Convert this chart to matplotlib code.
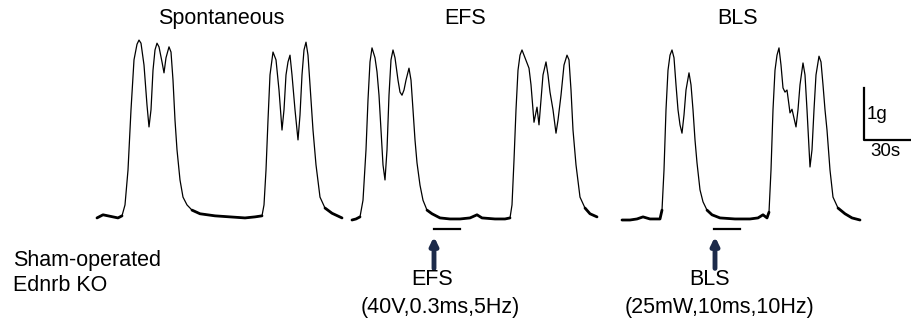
import numpy as np
import matplotlib.pyplot as plt

# tension traces: time (s) from start of each trace, tension (g) above baseline
spont_t = [0, 4.2, 7.7, 11.2, 14.7, 17.5, 19.6, 21.7, 23.8, 25.9, 28.0, 29.4, 30.8, 32.9, 35.0, 36.4,
           37.8, 39.2, 40.6, 42.0, 43.4, 45.5, 46.9, 48.3, 50.4, 51.8, 53.2, 54.6, 56.0, 58.1, 60.2,
           63.0, 66.5, 72.1, 82.6, 93.1, 103.6, 110.6, 115.5, 116.9, 118.3, 119.7, 121.1, 123.2,
           125.3, 127.4, 129.5, 130.9, 132.3, 133.7, 135.1, 136.5, 138.6, 140.7, 142.1, 143.5,
           144.9, 146.3, 147.7, 149.1, 151.2, 153.3, 156.1, 159.6, 164.5, 171.5]
spont_g = [0.04, 0.10, 0.08, 0.06, 0.04, 0.08, 0.29, 0.96, 2.12, 3.08, 3.38, 3.46, 3.40, 2.98, 2.21, 1.79,
           2.12, 2.88, 3.27, 3.40, 3.33, 3.04, 2.83, 3.12, 3.33, 3.23, 2.69, 1.92, 1.35, 0.77, 0.44,
           0.29, 0.19, 0.12, 0.08, 0.06, 0.04, 0.06, 0.08, 0.29, 0.96, 1.92, 2.79, 3.23,
           3.08, 2.50, 1.73, 2.12, 2.79, 3.04, 3.17, 2.79, 2.12, 1.54, 2.02, 2.79,
           3.27, 3.42, 3.17, 2.60, 1.73, 1.06, 0.44, 0.23, 0.13, 0.04]

efs_t = [0, 2.8, 5.6, 7.7, 9.8, 11.2, 12.6, 14.0, 16.1, 17.5, 18.9, 20.3, 21.7, 23.1, 24.5, 25.9,
         27.3, 28.7, 30.1, 32.2, 33.6, 35.0, 36.4, 37.8, 39.9, 41.3, 42.7, 44.1, 45.5, 47.6, 49.7,
         52.5, 56.0, 61.6, 68.6, 75.6, 82.6, 87.5, 91.0, 100.1, 107.1, 110.6, 112.0, 113.4, 114.8,
         116.2, 117.6, 119.0, 121.1, 123.9, 125.3, 127.4, 129.5, 130.9, 132.3, 133.7, 135.8,
         137.2, 138.6, 140.7, 142.8, 144.2, 146.3, 148.4, 150.5, 151.9, 153.3, 154.7, 156.8,
         159.6, 163.1, 166.6, 171.5]
efs_g = [0.0, 0.02, 0.06, 0.38, 1.35, 2.31, 3.04, 3.31, 3.12, 2.85, 2.40, 1.73, 1.06, 0.77, 1.35, 2.40,
         3.08, 3.27, 3.12, 2.69, 2.46, 2.40, 2.50, 2.69, 2.92, 2.69, 2.12, 1.54, 1.10, 0.67, 0.38,
         0.19, 0.12, 0.04, 0.02, 0.02, 0.04, 0.10, 0.04, 0.02, 0.02, 0.04, 0.29, 1.15, 2.12,
         2.88, 3.17, 3.27, 3.12, 2.92, 2.60, 1.88, 2.17, 1.83, 2.31, 2.79, 3.04,
         2.79, 2.46, 2.12, 1.67, 1.92, 2.40, 2.98, 3.17, 3.08, 2.50, 1.73, 1.06,
         0.44, 0.23, 0.12, 0.06]

bls_t = [0, 5.6, 10.5, 14.7, 19.6, 26.6, 28.0, 29.4, 30.8, 32.2, 33.6, 35.0, 36.4, 37.8, 39.2, 40.6,
         42.0, 43.4, 44.8, 46.9, 48.3, 49.7, 51.1, 52.5, 54.6, 56.7, 59.5, 63.0, 68.6, 79.1, 89.6,
         95.2, 98.7, 101.5, 102.9, 104.3, 105.7, 107.1, 108.5, 109.9, 111.3, 112.7, 114.1, 115.5,
         116.9, 117.6, 119.0, 120.4, 121.8, 123.2, 124.6, 126.7, 128.1, 129.5, 131.6, 133.0,
         134.4, 135.8, 137.9, 139.3, 140.7, 142.1, 143.5, 145.6, 147.7, 151.2, 156.1, 161.0, 166.6]
bls_g = [0.0, 0.0, 0.02, 0.06, 0.02, 0.02, 0.19, 0.96, 2.12, 2.88, 3.17, 3.27, 3.12, 2.60, 2.12, 1.83,
         1.67, 2.02, 2.50, 2.83, 2.60, 2.12, 1.54, 1.10, 0.58, 0.35, 0.19, 0.10, 0.04, 0.02, 0.02,
         0.04, 0.10, 0.04, 0.15, 0.96, 2.12, 2.88, 3.17, 3.31, 2.98, 2.54, 2.46, 2.50,
         2.21, 2.06, 2.13, 1.96, 1.79, 2.12, 2.60, 3.02, 2.79, 2.12, 1.02, 1.35,
         2.12, 2.79, 3.15, 3.04, 2.60, 2.12, 1.73, 0.96, 0.44, 0.23, 0.12, 0.04, 0.0]

titles = ["Spontaneous", "EFS", "BLS"]
stim_names = ["EFS", "BLS"]
stim_params = ["(40V,0.3ms,5Hz)", "(25mW,10ms,10Hz)"]
stim_start = [57.4, 64.4]   # s after trace start
stim_dur = 18

offsets = [67.9, 246.4, 435.4]     # trace start (s) on common time axis
title_x = [154.7, 325.5, 516.6]
FONT = 'Liberation Sans'
FS = 15.5

fig = plt.figure(figsize=(9.12, 3.24), dpi=100)
ax = fig.add_axes([0, 0, 1, 1])
ax.set_xlim(0, 638.4)
ax.set_ylim(-2.0, 4.231)
ax.axis('off')

traces = [(spont_t, spont_g), (efs_t, efs_g), (bls_t, bls_g)]
for (t, g), off, title, tx in zip(traces, offsets, titles, title_x):
    t = np.array(t) + off
    g = np.array(g)
    ax.plot(t, g, color='black', lw=0.9)
    # baseline noise makes the flat parts look heavier
    ax.plot(t, np.where(g < 0.25, g, np.nan), color='black', lw=2.0, solid_capstyle='round')
    ax.text(tx, 3.88, title, ha='center', va='center', fontsize=FS, family=FONT)

# stimulation bars + arrows
arrow_x = [303.8, 500.5]
name_x = [302.4, 497.0]
param_x = [308.0, 504.0]
for i in range(2):
    s0 = offsets[i + 1] + stim_start[i]
    ax.plot([s0, s0 + stim_dur], [-0.17, -0.17], color='black', lw=1.6)
    ax.annotate('', xy=(arrow_x[i], -0.32), xytext=(arrow_x[i], -0.93),
                arrowprops=dict(arrowstyle='-|>,head_width=0.22,head_length=0.45',
                                color='#1c2a4a', lw=3.5, shrinkA=0, shrinkB=0))
    ax.text(name_x[i], -1.15, stim_names[i], ha='center', va='center', fontsize=FS, family=FONT)
    ax.text(param_x[i], -1.69, stim_params[i], ha='center', va='center', fontsize=FS, family=FONT)

# scale bar 1 g / 30 s
ax.plot([604.8, 604.8, 636.8], [2.54, 1.54, 1.54], color='black', lw=1.6)
ax.text(606.6, 2.02, '1g', ha='left', va='center', fontsize=13.5, family=FONT)
ax.text(619.5, 1.31, '30s', ha='center', va='center', fontsize=13.5, family=FONT)

ax.text(9.0, -0.77, 'Sham-operated', ha='left', va='center', fontsize=FS, family=FONT)
ax.text(9.0, -1.25, 'Ednrb KO', ha='left', va='center', fontsize=FS, family=FONT)

fig.savefig('out.png', dpi=100)
